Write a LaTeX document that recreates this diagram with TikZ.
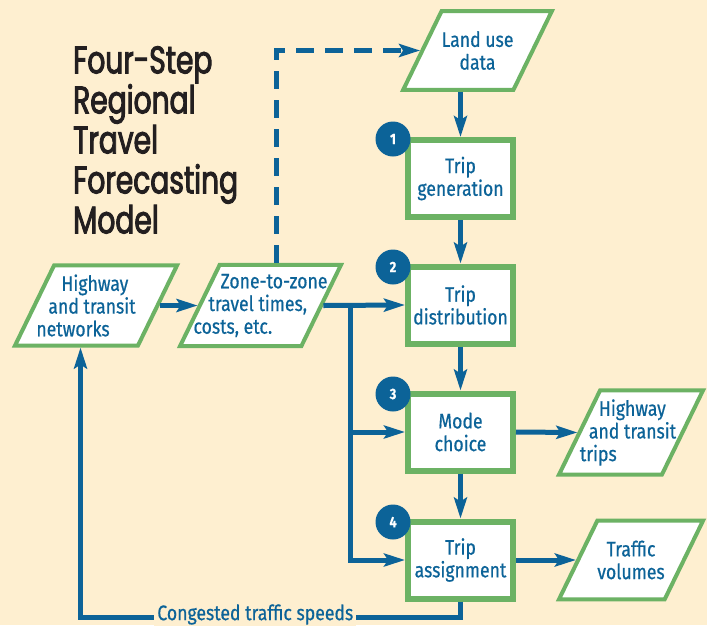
\documentclass[tikz,border=0pt]{standalone}
\usepackage{fontspec}
\usetikzlibrary{shapes.geometric,arrows.meta}
\setmainfont{Fira Sans}[FakeStretch=0.84, FakeBold=0.6]
\newfontfamily\titlefont{Poppins}[FakeStretch=0.73, FakeBold=2.4]
\newcommand\boxtext{\fontsize{21}{22.7}\selectfont}
\newcommand\numtext{\fontsize{15}{15}\selectfont\bfseries}
\definecolor{bgcream}{RGB}{254,239,208}
\definecolor{flowblue}{RGB}{12,99,152}
\definecolor{boxgreen}{RGB}{108,178,100}
\definecolor{titleink}{RGB}{35,31,32}

\begin{document}
\begin{tikzpicture}[x=1pt, y=-1pt, >={Stealth[length=21pt,width=13pt,inset=4pt]},
    main/.style = {draw=boxgreen, line width=6pt, fill=white, minimum width=105pt, minimum height=77pt, inner sep=0pt, align=center, text=flowblue, font=\boxtext},
    data/.style = {draw=boxgreen, line width=4pt, fill=white, trapezium, trapezium left angle=64, trapezium right angle=116, trapezium stretches body=true, inner xsep=0pt, inner ysep=20pt, align=center, text=flowblue, font=\boxtext},
    three/.style = {inner ysep=9pt, inner xsep=-40pt, align=left},
    num/.style = {circle, fill=flowblue, minimum size=35pt, inner sep=0pt, text=white, font=\numtext},
    link/.style = {draw=flowblue, line width=5pt},
    lab/.style = {fill=bgcream, inner sep=3pt, text=flowblue, font=\boxtext}]
    \useasboundingbox (0,0) rectangle (707,625);
    \fill[bgcream] (0,0) rectangle (707,625);

    \node[anchor=north west, align=left, inner sep=0pt, text=titleink, font=\titlefont\fontsize{38.5}{40}\selectfont] (t) at (73,46) {Four-Step\\Regional\\Travel\\Forecasting\\Model};

    \node[data, minimum width=145pt] (5) at (477.5,50.5) {Land use\\data};
    \node[main] (1) at (460.5,178.5) {Trip\\generation};
    \node[main] (2) at (460.5,305) {Trip\\distribution};
    \node[main] (3) at (460.5,432) {Mode\\choice};
    \node[main] (4) at (460.5,560) {Trip\\assignment};

    \node[data, three, minimum width=162pt] (6) at (96,305.5) {\hspace*{25pt}Highway\\\hspace*{12pt}and transit\hspace{20pt}\mbox{}\\networks};
    \node[data, three, minimum width=161pt] (7) at (260.5,305.5) {\hspace*{27pt}Zone-to-zone\\\hspace*{15pt}travel times,\\costs, etc.};
    \node[data, three, minimum width=144pt] (8) at (631,432.5) {\hspace*{19pt}Highway\\\hspace*{9pt}and transit\hspace{6pt}\mbox{}\\trips};
    \node[data, minimum width=144pt] (9) at (631,560) {Traffic\\volumes};

    \node[num] (n1) at (393,139) {1};
    \node[num] (n2) at (393,267) {2};
    \node[num] (n3) at (393,394) {3};
    \node[num] (n4) at (393,522) {4};

    \coordinate (j) at (350,305);

    \draw[link, dash pattern=on 18pt off 11pt, ->] ([xshift=16pt]7.north) |- (5.left side);
    \draw[link, ->] (5.south -| 1) -- (1.north);
    \draw[link, ->] (1) -- (2);
    \draw[link, ->] (2) -- (3);
    \draw[link, ->] (3) -- (4);

    \draw[link, ->] (6.right side) -- (7.left side);
    \draw[link, ->] (7.right side) -- (2.west);
    \draw[link, ->] (j) |- (3.west);
    \draw[link, ->] (j) |- (4.west);

    \draw[link, ->] (3.east) -- (8.left side);
    \draw[link, ->] (4.east) -- (9.left side);

    \draw[link, ->] (4.south) -- ++(0,16) -| node[pos=0.27, lab, yshift=3pt] {Congested traffic speeds} ([xshift=5pt]6.bottom side);
\end{tikzpicture}
\end{document}
